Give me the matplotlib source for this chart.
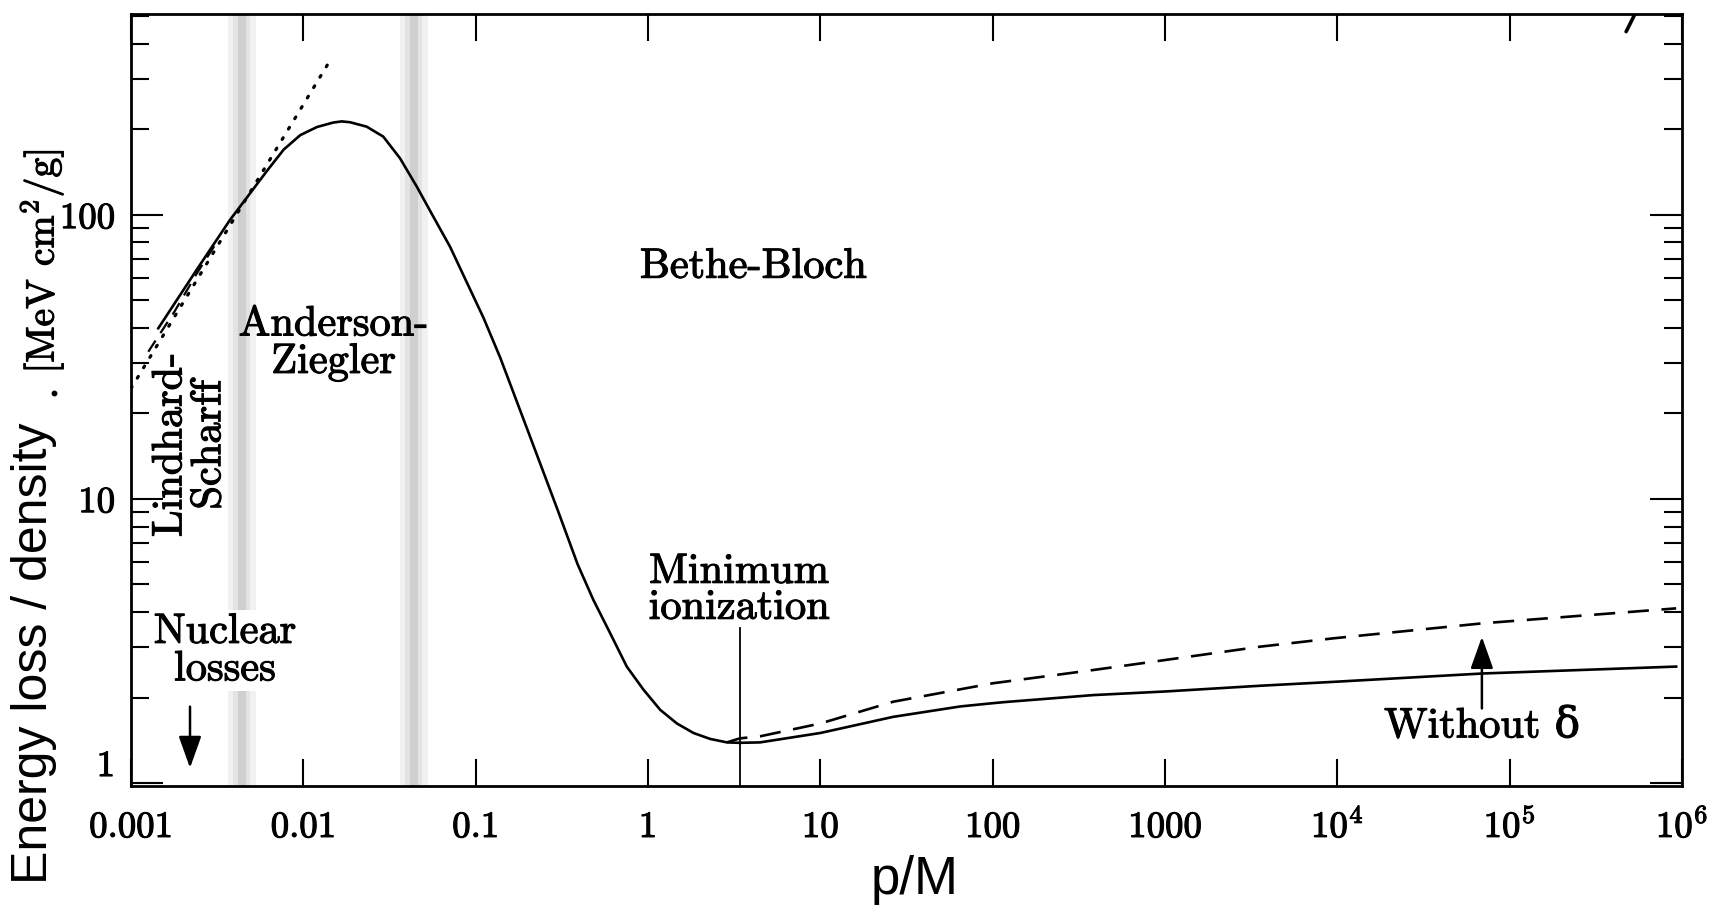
import matplotlib
matplotlib.use("Agg")
import matplotlib.pyplot as plt
import matplotlib.patheffects as pe
from matplotlib.ticker import FixedLocator, LogLocator, NullLocator, NullFormatter
from matplotlib.lines import Line2D

plt.rcParams["font.family"] = ["cmr10", "DejaVu Serif"]
plt.rcParams["mathtext.fontset"] = "cm"
plt.rcParams["axes.unicode_minus"] = False
plt.rcParams["axes.formatter.use_mathtext"] = True

# Stopping power curve (solid): p/M vs energy loss / density [MeV cm^2/g]
p_solid = [0.00144, 0.0024, 0.00375, 0.0049, 0.0061, 0.0077, 0.0096, 0.012,
           0.0149, 0.0167, 0.0187, 0.0233, 0.0291, 0.0364, 0.0455, 0.0568,
           0.071, 0.0887, 0.1109, 0.1387, 0.2, 0.3, 0.39, 0.482, 0.603,
           0.753, 0.942, 1.177, 1.472, 1.836, 2.29, 2.87, 3.41, 4.47, 10,
           26.5, 64.8, 100, 121, 385, 1000, 3565, 9420, 6.98e4, 9.25e5]
dedx_solid = [39.9, 64.0, 96.0, 119, 142, 170, 191, 204,
              211.5, 213.5, 212, 204.6, 188.7, 158.3, 125.9, 98.6,
              77.3, 58.0, 43.5, 31.5, 17.5, 9.1, 5.9, 4.41, 3.37,
              2.57, 2.13, 1.81, 1.62, 1.50, 1.43, 1.39, 1.385, 1.39, 1.50,
              1.71, 1.86, 1.91, 1.93, 2.04, 2.10, 2.20, 2.27, 2.43, 2.57]

# Dashed curve, low-momentum branch
p_dash_low = [0.00126, 0.0018, 0.0024, 0.0032]
dedx_dash_low = [33.0, 46.0, 62.0, 81.5]

# Dashed curve (with delta rays), relativistic rise
p_dash_high = [2.87, 3.41, 4.47, 10, 26.5, 100, 385, 1000, 3565, 9420, 6.98e4, 9.25e5]
dedx_dash_high = [1.39, 1.436, 1.46, 1.62, 1.933, 2.244, 2.50, 2.71, 3.02, 3.23, 3.65, 4.12]

# Lindhard-Scharff asymptote (dotted)
p_dot = [0.001, 0.0143]
dedx_dot = [24.5, 350]

# Radiative upturn at the highest momenta
p_rad = [4.74e5, 5.3e5]
dedx_rad = [442, 506]

# Region boundaries (shaded bands)
band_centers = [0.0044, 0.0438]

# Minimum ionization marker
p_min_ion = 3.41
dedx_min_ion_top = 3.51

x_ticks = [1e-3, 1e-2, 1e-1, 1, 10, 100, 1000, 1e4, 1e5, 1e6]
x_tick_labels = ["0.001", "0.01", "0.1", "1", "10", "100", "1000",
                 r"$10^4$", r"$10^5$", r"$10^6$"]
y_ticks = [1, 10, 100]
y_tick_labels = ["1", "10", "100"]

ink = [pe.withStroke(linewidth=0.8, foreground="black")]

W, H = 1714, 909
fig = plt.figure(figsize=(W / 100, H / 100), dpi=100)
ax = fig.add_axes([131 / W, 1 - 785.5 / H, 1551 / W, 772 / H])
ax.set_xscale("log")
ax.set_yscale("log")
ax.set_xlim(1e-3, 1e6)
ax.set_ylim(0.98, 512)

# shaded transition bands
for c in band_centers:
    for f, col in [(1.20, "#f1f1f1"), (1.12, "#e3e3e3"), (1.055, "#cfcfcf")]:
        ax.axvspan(c / f, c * f, color=col, lw=0, zorder=0)

ax.plot(p_solid, dedx_solid, color="black", lw=1.9, zorder=3,
        solid_joinstyle="round")
ax.plot(p_dash_low, dedx_dash_low, color="black", lw=1.6,
        linestyle=(0, (6, 4)), zorder=3)
ax.plot(p_dash_high, dedx_dash_high, color="black", lw=1.9,
        linestyle=(0, (8, 4.8)), zorder=3)
ax.plot(p_dot, dedx_dot, color="black", lw=2.3, linestyle=(0, (0.6, 3.2)),
        dash_capstyle="round", zorder=3)
ax.plot(p_rad, dedx_rad, color="black", lw=2.6, solid_capstyle="round", zorder=3)

ax.plot([p_min_ion, p_min_ion], [0.98, dedx_min_ion_top], color="black",
        lw=1.3, zorder=3)

fs = 30.5
ax.text(4.08, 65.6, "Bethe-Bloch", fontsize=fs, ha="center", va="center",
        zorder=4, path_effects=ink)
ax.text(0.01495, 35.3, "Anderson-\nZiegler", fontsize=fs, ha="center",
        va="center", linespacing=1.0, zorder=4, path_effects=ink)
ax.text(0.0022, 15.5, "Lindhard-\nScharff", fontsize=fs, ha="center",
        va="center", rotation=90, linespacing=1.05, zorder=4, path_effects=ink)
ax.text(0.00351, 2.92, "Nuclear\nlosses", fontsize=fs, ha="center",
        va="center", linespacing=1.0, zorder=4, path_effects=ink,
        bbox=dict(facecolor="white", edgecolor="none", pad=2))
ax.text(3.37, 4.78, "Minimum\nionization", fontsize=fs, ha="center",
        va="center", linespacing=0.95, zorder=4, path_effects=ink)
ax.text(6.9e4, 1.58, "Without δ", fontsize=fs, ha="center",
        va="center", zorder=4, path_effects=ink)

arrow_style = "-|>,head_length=0.7,head_width=0.25"
ax.annotate("", xy=(0.0022, 1.13), xytext=(0.0022, 1.857),
            arrowprops=dict(arrowstyle=arrow_style, mutation_scale=28,
                            lw=1.8, color="black", shrinkA=0, shrinkB=0),
            zorder=4)
ax.annotate("", xy=(6.9e4, 3.27), xytext=(6.9e4, 1.83),
            arrowprops=dict(arrowstyle=arrow_style, mutation_scale=28,
                            lw=1.8, color="black", shrinkA=0, shrinkB=0),
            zorder=4)

# axes, ticks and labels
for s in ax.spines.values():
    s.set_linewidth(2.0)
ax.xaxis.set_major_locator(FixedLocator(x_ticks))
ax.xaxis.set_minor_locator(NullLocator())
ax.set_xticklabels(x_tick_labels)
ax.yaxis.set_major_locator(FixedLocator(y_ticks))
ax.yaxis.set_minor_locator(LogLocator(base=10, subs=range(2, 10)))
ax.yaxis.set_minor_formatter(NullFormatter())
ax.set_yticklabels(y_tick_labels)

ax.tick_params(axis="both", which="both", direction="in", top=True, right=True,
               colors="black")
ax.tick_params(axis="x", which="major", length=19.5, width=1.5, pad=37,
               labelsize=26.5)
ax.tick_params(axis="y", which="major", length=23, width=1.5, pad=11.5,
               labelsize=26.5)
ax.tick_params(axis="y", which="minor", length=13, width=1.5)
for lbl in ax.get_xticklabels():
    lbl.set_va("baseline")
    lbl.set_path_effects(ink)
for lbl in ax.get_yticklabels():
    lbl.set_path_effects(ink)
ax.get_yticklabels()[0].set_va("bottom")

ax.set_xlabel("p/M", fontsize=38, family=["Liberation Sans"], va="center")
ax.xaxis.set_label_coords((915 - 131) / 1551, (785.5 - 880) / 772)
ax.set_ylabel("Energy loss / density", fontsize=36, family=["Liberation Sans"],
              va="center")
ax.yaxis.set_label_coords((34 - 131) / 1551, (785.5 - 653) / 772)

fig.text(42 / W, 1 - 261.5 / H, r"[MeV cm$^2$/g]", fontsize=28.5,
         rotation=90, ha="center", va="center", path_effects=ink)
fig.add_artist(Line2D([53.6 / W], [1 - 393 / H], marker="o", ms=3.2,
                      color="black", transform=fig.transFigure))

fig.savefig("out.png", dpi=100, facecolor="white")
